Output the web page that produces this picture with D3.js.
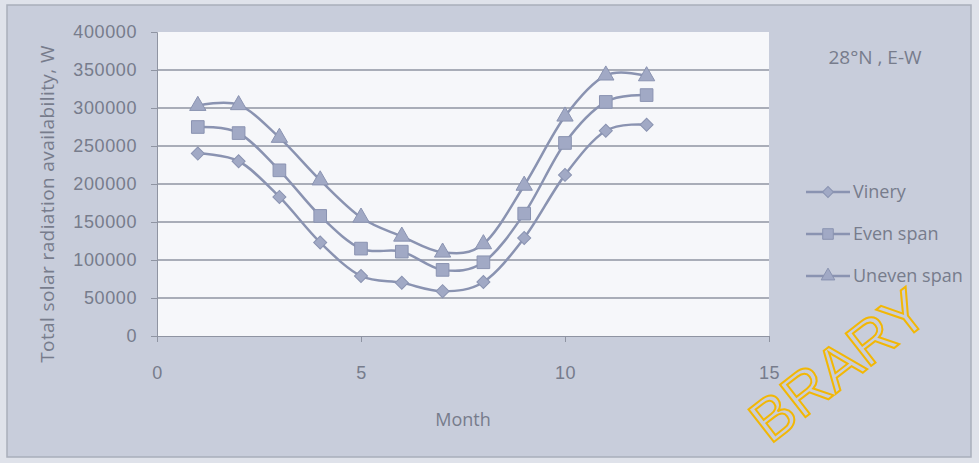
<!DOCTYPE html>
<html lang="en">
<head>
  <meta charset="UTF-8">
  <title>Total solar radiation availability</title>
  <script src="https://d3js.org/d3.v7.min.js"></script>
  <style>
    body { margin: 0; background: #fff; }
    svg { display: block; font-family: "Open Sans", sans-serif; }
    .axis text { fill: #777c8c; font-size: 18px; letter-spacing: 0.6px; }
  </style>
</head>
<body>
  <svg width="979" height="463"></svg>

  <script>
    // values
    const months = [1, 2, 3, 4, 5, 6, 7, 8, 9, 10, 11, 12];
    const vinery = [240000, 230000, 183000, 123000, 79000, 70000, 59000, 71000, 129000, 212000, 270000, 278000];
    const evenSpan = [275000, 267000, 218000, 158000, 115000, 111000, 87000, 97000, 161000, 254000, 308000, 317000];
    const unevenSpan = [303000, 304000, 261000, 205000, 156000, 131000, 110000, 121000, 198000, 289000, 343000, 342000];
    const seriesNames = ["Vinery", "Even span", "Uneven span"];
    const xTicks = [0, 5, 10, 15];
    const yTicks = [0, 50000, 100000, 150000, 200000, 250000, 300000, 350000, 400000];

    const svg = d3.select("svg");
    const margin = {top: 32, right: 210, bottom: 127, left: 157};
    const width = 979 - margin.left - margin.right,
          height = 463 - margin.top - margin.bottom;

    const bg = "#c8cddb", plotBg = "#f6f7fa", grid = "#8f94a2",
          lineCol = "#8a93b1", markFill = "#a1a9c5", textCol = "#777c8c";

    // chart background + border
    svg.append("rect").attr("x", 0).attr("y", 0).attr("width", 979).attr("height", 463).attr("fill", "#dfe2ea");
    svg.append("rect").attr("x", 7).attr("y", 5).attr("width", 964).attr("height", 452)
      .attr("fill", bg).attr("stroke", "#a9aebb").attr("stroke-width", 1.5);

    const g = svg.append("g").attr("transform", `translate(${margin.left},${margin.top})`);

    const x = d3.scaleLinear().domain([0, 15]).range([0, width]);
    const y = d3.scaleLinear().domain([0, 400000]).range([height, 0]);

    g.append("rect").attr("width", width).attr("height", height).attr("fill", plotBg);

    // gridlines
    g.append("g")
      .selectAll("line")
      .data(yTicks.slice(1, -1))
      .join("line")
        .attr("x1", 0).attr("x2", width)
        .attr("y1", d => y(d)).attr("y2", d => y(d))
        .attr("stroke", grid).attr("stroke-width", 1.3);

    // axes
    const yAxis = g.append("g")
      .attr("class", "axis")
      .call(d3.axisLeft(y).tickValues(yTicks).tickSize(6).tickPadding(14).tickFormat(d3.format("d")));
    yAxis.selectAll("line").attr("stroke", grid);
    yAxis.select(".domain").attr("stroke", grid);

    const xAxis = g.append("g")
      .attr("class", "axis")
      .attr("transform", `translate(0,${height})`)
      .call(d3.axisBottom(x).tickValues(xTicks).tickSize(6).tickPadding(24));
    xAxis.selectAll("line").attr("stroke", grid);
    xAxis.select(".domain").attr("stroke", grid);

    // axis titles
    svg.append("text")
      .attr("transform", "translate(54,204) rotate(-90)")
      .attr("text-anchor", "middle")
      .attr("fill", textCol).attr("font-size", 19).attr("letter-spacing", 0.4)
      .text("Total solar radiation availability, W");

    svg.append("text")
      .attr("x", margin.left + x(7.5)).attr("y", 426)
      .attr("text-anchor", "middle")
      .attr("fill", textCol).attr("font-size", 18)
      .text("Month");

    const data = [vinery, evenSpan, unevenSpan].map((vals, i) => ({
      name: seriesNames[i],
      values: months.map((m, j) => ({month: m, value: vals[j]}))
    }));

    const line = d3.line()
      .x(d => x(d.month))
      .y(d => y(d.value))
      .curve(d3.curveCardinal);

    // diamond = square turned 45deg
    const symbols = [d3.symbolSquare, d3.symbolSquare, d3.symbolTriangle];
    const symbolSize = [85, 160, 115];
    const symbolRot = [45, 0, 0];

    const series = g.selectAll(".series")
      .data(data)
      .join("g")
        .attr("class", "series");

    series.append("path")
      .attr("d", d => line(d.values))
      .attr("fill", "none")
      .attr("stroke", lineCol)
      .attr("stroke-width", 2.5);

    series.each(function(d, i) {
      d3.select(this).selectAll("path.mark")
        .data(d.values)
        .join("path")
          .attr("class", "mark")
          .attr("transform", p => `translate(${x(p.month)},${y(p.value)}) rotate(${symbolRot[i]})`)
          .attr("d", d3.symbol(symbols[i], symbolSize[i]))
          .attr("fill", markFill)
          .attr("stroke", lineCol)
          .attr("stroke-width", 1);
    });

    // title
    svg.append("text")
      .attr("x", 875).attr("y", 64)
      .attr("text-anchor", "middle")
      .attr("fill", textCol).attr("font-size", 19)
      .text("28°N , E-W");

    // legend
    const legend = svg.append("g").attr("transform", "translate(806,192)");
    data.forEach((d, i) => {
      const row = legend.append("g").attr("transform", `translate(0,${i * 42})`);
      row.append("line")
        .attr("x1", 0).attr("x2", 44)
        .attr("stroke", lineCol).attr("stroke-width", 2.5);
      row.append("path")
        .attr("transform", `translate(22,0) rotate(${symbolRot[i]})`)
        .attr("d", d3.symbol(symbols[i], symbolSize[i] * 0.7))
        .attr("fill", markFill).attr("stroke", lineCol);
      row.append("text")
        .attr("x", 47).attr("y", 6)
        .attr("fill", textCol).attr("font-size", 18)
        .text(d.name);
    });

    // scanned watermark
    svg.append("text")
      .attr("transform", "translate(770,445) rotate(-38)")
      .attr("fill", "none").attr("stroke", "#f2b705").attr("stroke-width", 2)
      .attr("font-size", 60).attr("font-family", "Liberation Sans, sans-serif")
      .text("BRARY");
  </script>
</body>
</html>
